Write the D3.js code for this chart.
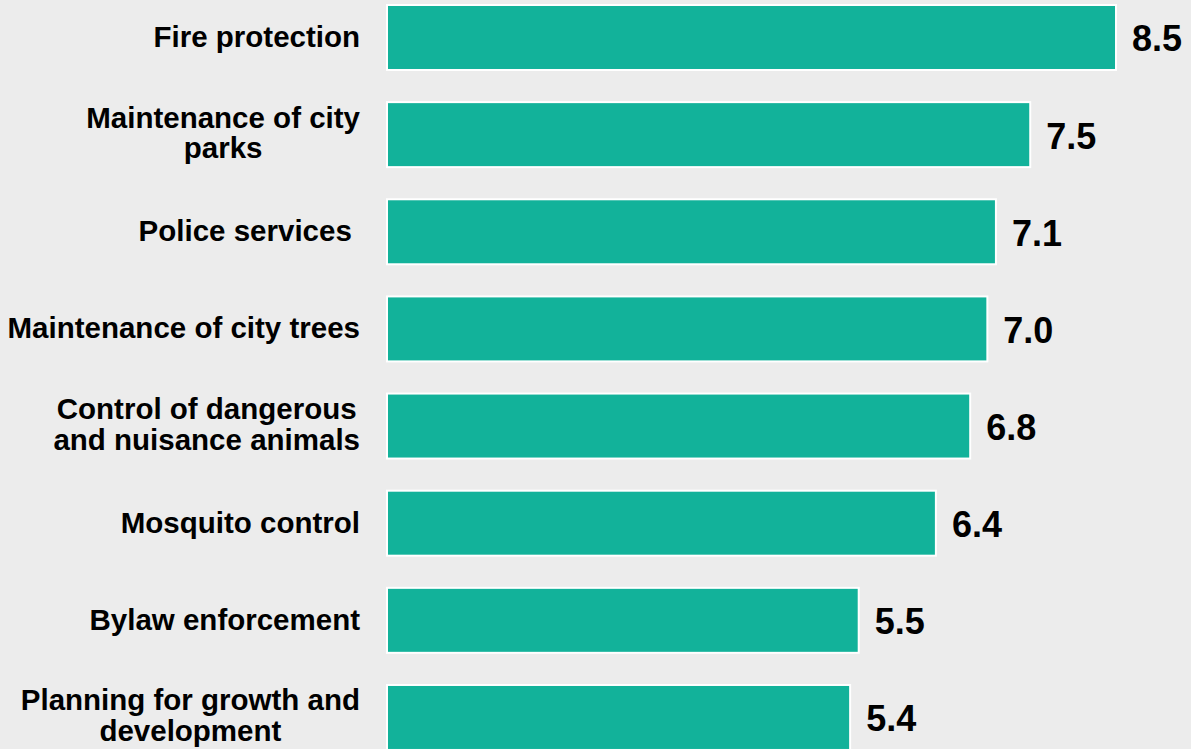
<!DOCTYPE html>
<html>
<head>
<meta charset="utf-8">
<script src="https://cdn.jsdelivr.net/npm/d3@7/dist/d3.min.js"></script>
<style>
  html, body { margin: 0; padding: 0; background: #ececec; overflow: hidden; }
  svg { display: block; }
  text { font-family: "Liberation Sans", Arial, sans-serif; font-weight: bold; fill: #000; }
</style>
</head>
<body>
<svg id="chart" width="1191" height="749"></svg>
<script>
// Service categories (lines separated by "\n") and their mean scores
const categories = [
  "Fire protection",
  "Maintenance of city\nparks",
  "Police services ",
  "Maintenance of city trees",
  "Control of dangerous\nand nuisance animals",
  "Mosquito control",
  "Bylaw enforcement",
  "Planning for growth and\ndevelopment"
];
const scores = [8.5, 7.5, 7.1, 7.0, 6.8, 6.4, 5.5, 5.4];
const scoreLabels = ["8.5", "7.5", "7.1", "7.0", "6.8", "6.4", "5.5", "5.4"];

const svg = d3.select("#chart");
const W = 1191, H = 749;

svg.append("rect").attr("width", W).attr("height", H).attr("fill", "#ececec");

const x = d3.scaleLinear().domain([0, 8.5]).range([387, 1116]);

const pad = 0.331;
const step = 97.14;
const y = d3.scaleBand()
  .domain(categories)
  .range([5 - step * pad / 2, 5 - step * pad / 2 + step * categories.length])
  .paddingInner(pad)
  .paddingOuter(pad / 2);

const rows = categories.map((c, i) => ({ cat: c, value: scores[i], label: scoreLabels[i] }));

// Bars
svg.append("g").selectAll("rect")
  .data(rows)
  .join("rect")
  .attr("x", x(0))
  .attr("y", d => y(d.cat))
  .attr("width", d => x(d.value) - x(0))
  .attr("height", y.bandwidth())
  .attr("fill", "#12b29a")
  .attr("stroke", "#ffffff")
  .attr("stroke-width", 2);

// Value labels
svg.append("g").selectAll("text")
  .data(rows)
  .join("text")
  .attr("x", d => x(d.value) + 16)
  .attr("y", d => y(d.cat) + y.bandwidth() / 2 + 14)
  .style("font-size", "36px")
  .text(d => d.label);

// Category labels: centred lines in a block whose right edge sits at x=360
const labelRight = 360;
const lineH = 30.5;
const catG = svg.append("g");
rows.forEach(d => {
  const lines = d.cat.split("\n");
  const cy = y(d.cat) + y.bandwidth() / 2;
  const t = catG.append("text")
    .style("font-size", "29.5px")
    .style("white-space", "pre")
    .attr("text-anchor", "middle");
  const base = lines.length === 1 ? cy + 9.5 : cy - 7;
  const spans = lines.map((ln, i) =>
    t.append("tspan")
      .attr("y", base + i * lineH)
      .text(ln)
  );
  const maxW = d3.max(spans, s => s.node().getComputedTextLength());
  spans.forEach(s => s.attr("x", labelRight - maxW / 2));
});
</script>
</body>
</html>
